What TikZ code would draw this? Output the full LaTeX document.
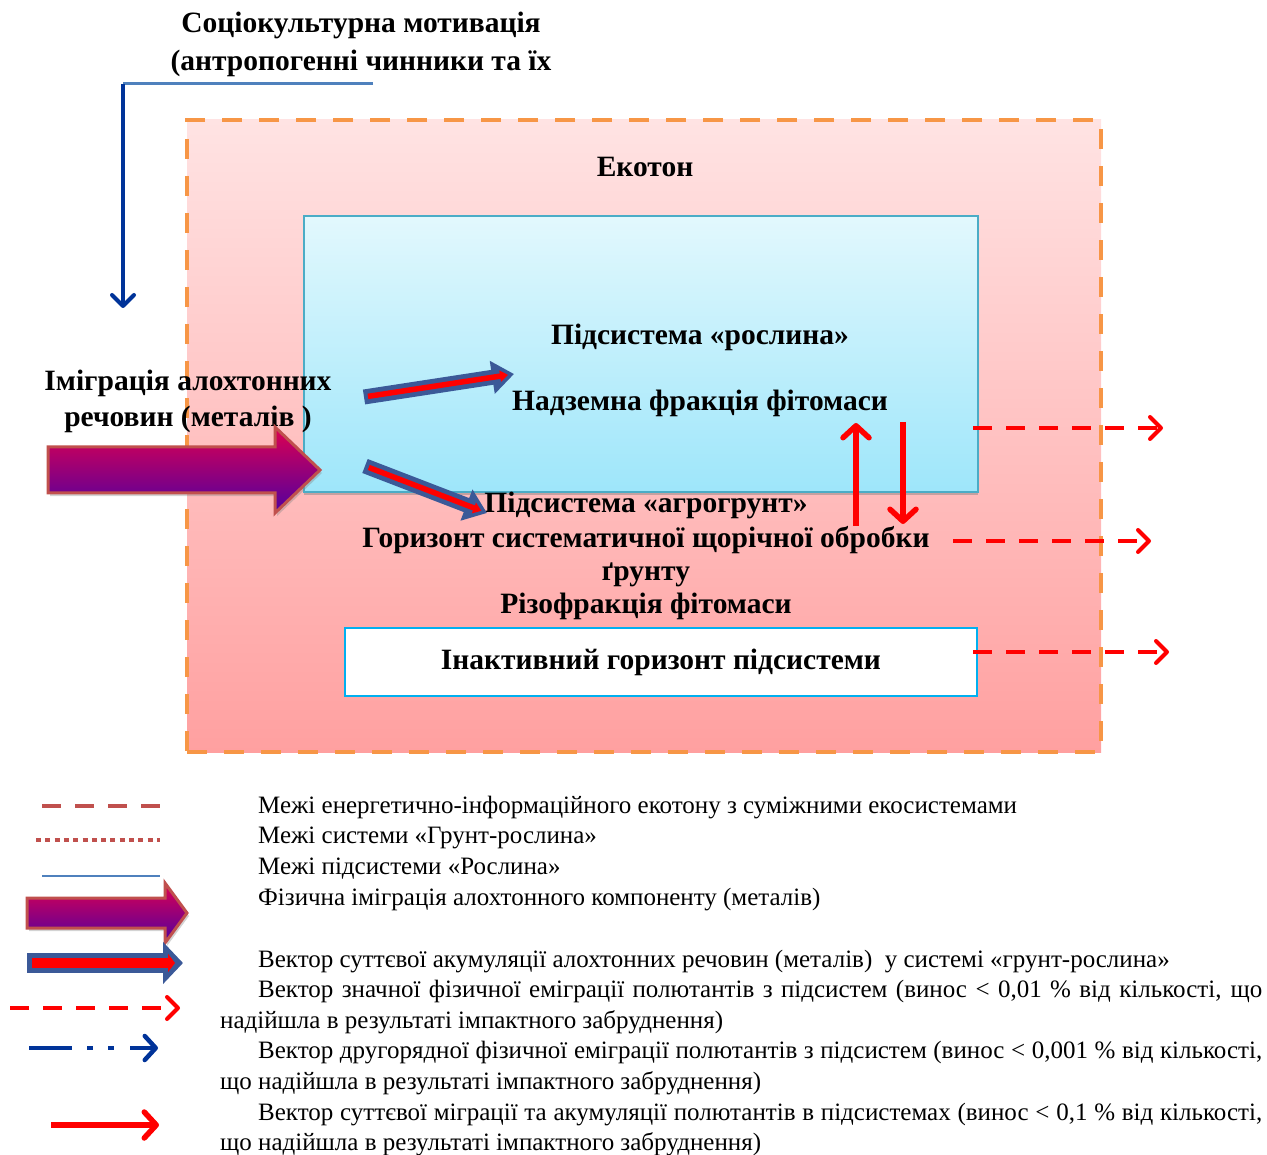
\documentclass[tikz,border=0pt]{standalone}
\usepackage{fontspec}
\setmainfont{Liberation Serif}
\usepackage{tikz}
\usetikzlibrary{arrows.meta,shadows}

\definecolor{ecoorange}{RGB}{247,150,70}
\definecolor{ecotop}{RGB}{255,227,227}
\definecolor{ecobot}{RGB}{255,160,160}
\definecolor{planttop}{RGB}{226,248,253}
\definecolor{plantbot}{RGB}{158,230,250}
\definecolor{plantline}{RGB}{75,172,198}
\definecolor{inactline}{RGB}{0,176,240}
\definecolor{migtop}{RGB}{222,0,80}
\definecolor{migbot}{RGB}{80,0,160}
\definecolor{migline}{RGB}{192,80,77}
\definecolor{fatblue}{RGB}{59,89,152}
\definecolor{vecred}{RGB}{255,0,0}
\definecolor{socblue}{RGB}{0,51,153}
\definecolor{steel}{RGB}{79,129,189}

\newcommand{\lblfnt}{\bfseries\fontsize{29.5}{34}\selectfont}
\newcommand{\legfnt}{\fontsize{25}{31}\selectfont}

\begin{document}
\begin{tikzpicture}[
            x = 1pt, y = -1pt, % one unit = one pixel, y downwards
            lbl/.style = {font=\lblfnt, anchor=base, inner sep=0pt}, % bold labels
            legtext/.style = {font=\legfnt, anchor=base west, inner sep=0pt}, % legend lines
            redvec/.style = {draw=vecred, line width=5.5pt,
                             -{Straight Barb[length=12pt,width=26pt,line width=5.5pt,round]}},
            emig/.style = {draw=vecred, line width=4pt, dash pattern=on 19pt off 14pt,
                           -{Straight Barb[length=11pt,width=22pt,line width=4pt,round]}},
            fatback/.style = {draw=fatblue, line width=15pt, -{Triangle[length=22pt,width=32pt]}},
            fatfront/.style = {draw=vecred, line width=5.5pt, -{Triangle[length=8pt,width=11pt]},
                               shorten <=4pt, shorten >=6pt},
            bigarrow/.style = {draw=migline, line width=3pt, top color=migtop, bottom color=migbot,
                               drop shadow={shadow xshift=2pt, shadow yshift=-3pt, opacity=0.35}}
        ]

\useasboundingbox (0,0) rectangle (1267,1155);

% boxes
\node[draw=ecoorange, line width=4pt, dash pattern=on 20pt off 17pt, top color=ecotop, bottom color=ecobot,
      minimum width=914pt, minimum height=632pt, inner sep=0pt] (eco) at (644,436) {};
\node[draw=plantline, line width=1.5pt, top color=planttop, bottom color=plantbot,
      drop shadow={shadow xshift=0pt, shadow yshift=-3pt, opacity=0.45},
      minimum width=674pt, minimum height=276pt, inner sep=0pt] (plant) at (641,354) {};
\node[draw=inactline, line width=2.5pt, fill=white, font=\lblfnt,
      minimum width=632pt, minimum height=68pt, inner sep=0pt] (inact) at (661,662) {Інактивний горизонт підсистеми};

% texts
\node[lbl] (soc1) at (361,33) {Соціокультурна мотивація};
\node[lbl] (soc2) at (361,71) {(антропогенні чинники та їх};
\node[lbl] (ecot) at (645,177) {Екотон};
\node[lbl] (pl1) at (700,345) {Підсистема «рослина»};
\node[lbl] (pl2) at (700,411) {Надземна фракція фітомаси};
\node[lbl] (im1) at (188,391) {Іміграція алохтонних};
\node[lbl] (im2) at (188,427) {речовин (металів )};
\node[lbl] (ag1) at (646,512) {Підсистема «агрогрунт»};
\node[lbl] (ag2) at (646,547) {Горизонт систематичної щорічної обробки};
\node[lbl] (ag3) at (646,580) {ґрунту};
\node[lbl] (ag4) at (646,613) {Різофракція фітомаси};

% socio-cultural input
\coordinate (socR) at (373,84);
\coordinate (socL) at (123,84);
\coordinate (socD) at (123,308);
\draw[steel, line width=3pt] (socR) -- (socL);
\draw[socblue, line width=4pt, -{Straight Barb[length=11pt,width=22pt,line width=4pt,round]}] (socL) -- (socD);

% immigration of metals
\path[bigarrow] (48,447) -- (275,447) -- (275,427) -- (320,470) -- (275,513) -- (275,493) -- (48,493) -- cycle;

% accumulation vectors
\coordinate (acc1a) at (364,397);
\coordinate (acc1b) at (514,374);
\coordinate (acc2a) at (365,466);
\coordinate (acc2b) at (487,513);
\draw[fatback] (acc1a) -- (acc1b);
\draw[fatfront] (acc1a) -- (acc1b);
\draw[fatback] (acc2a) -- (acc2b);
\draw[fatfront] (acc2a) -- (acc2b);

% migration between subsystems
\coordinate (upA) at (856,526);
\coordinate (upB) at (856,423);
\coordinate (dnA) at (903,422);
\coordinate (dnB) at (903,524);
\draw[redvec] (upA) -- (upB);
\draw[redvec] (dnA) -- (dnB);

% emigration out of the ecotone
\coordinate (em1a) at (973,428);
\coordinate (em1b) at (1163,428);
\coordinate (em2a) at (953,541);
\coordinate (em2b) at (1151,541);
\coordinate (em3a) at (973,652);
\coordinate (em3b) at (1169,652);
\draw[emig] (em1a) -- (em1b);
\draw[emig] (em2a) -- (em2b);
\draw[emig] (em3a) -- (em3b);

% legend samples
\coordinate (L1a) at (42,806);
\coordinate (L1b) at (160,806);
\coordinate (L2a) at (36,840);
\coordinate (L2b) at (160,840);
\coordinate (L3a) at (42,876);
\coordinate (L3b) at (160,876);
\draw[migline, line width=4pt, dash pattern=on 19pt off 14pt] (L1a) -- (L1b);
\draw[migline, line width=4pt, dash pattern=on 5pt off 4.3pt] (L2a) -- (L2b);
\draw[steel, line width=2.5pt] (L3a) -- (L3b);

\path[bigarrow] (27,898) -- (165,898) -- (165,883) -- (187,913) -- (165,943) -- (165,928) -- (27,928) -- cycle;

\coordinate (L5a) at (27,963);
\coordinate (L5b) at (183,963);
\draw[fatblue, line width=20pt, -{Triangle[length=20pt,width=41pt]}] (L5a) -- (L5b);
\draw[vecred, line width=10pt, -{Triangle[length=7pt,width=18pt]}, shorten <=5pt, shorten >=8pt] (L5a) -- (L5b);

\coordinate (L6a) at (10,1008);
\coordinate (L6b) at (180,1008);
\coordinate (L7a) at (29,1048);
\coordinate (L7b) at (158,1048);
\coordinate (L8a) at (51,1125);
\coordinate (L8b) at (159,1125);
\draw[emig] (L6a) -- (L6b);
\draw[socblue, line width=4.5pt, dash pattern=on 43pt off 15pt on 6pt off 15pt on 6pt off 16pt on 60pt,
      -{Straight Barb[length=11pt,width=24pt,line width=4.5pt,round]}] (L7a) -- (L7b);
\draw[redvec] (L8a) -- (L8b);

% legend texts
\node[legtext] (T1) at (258,813) {Межі енергетично-інформаційного екотону з суміжними екосистемами};
\node[legtext] (T2) at (258,843) {Межі системи «Грунт-рослина»};
\node[legtext] (T3) at (258,874) {Межі підсистеми «Рослина»};
\node[legtext] (T4) at (258,905) {Фізична іміграція алохтонного компоненту (металів)};
\node[legtext] (T5) at (258,967) {Вектор суттєвої акумуляції алохтонних речовин (металів)~ у системі «грунт-рослина»};
\node[legtext] (T6) at (258,997) {\makebox[1004pt][s]{Вектор значної фізичної еміграції полютантів з підсистем (винос < 0,01 \% від кількості, що}};
\node[legtext] (T7) at (220,1028) {надійшла в результаті імпактного забруднення)};
\node[legtext] (T8) at (258,1058) {\makebox[1004pt][s]{Вектор другорядної фізичної еміграції полютантів з підсистем (винос < 0,001 \% від кількості,}};
\node[legtext] (T9) at (220,1089) {що надійшла в результаті імпактного забруднення)};
\node[legtext] (T10) at (258,1120) {\makebox[1004pt][s]{Вектор суттєвої міграції та акумуляції полютантів в підсистемах (винос < 0,1 \% від кількості,}};
\node[legtext] (T11) at (220,1150) {що надійшла в результаті імпактного забруднення)};
\end{tikzpicture}
\end{document}
